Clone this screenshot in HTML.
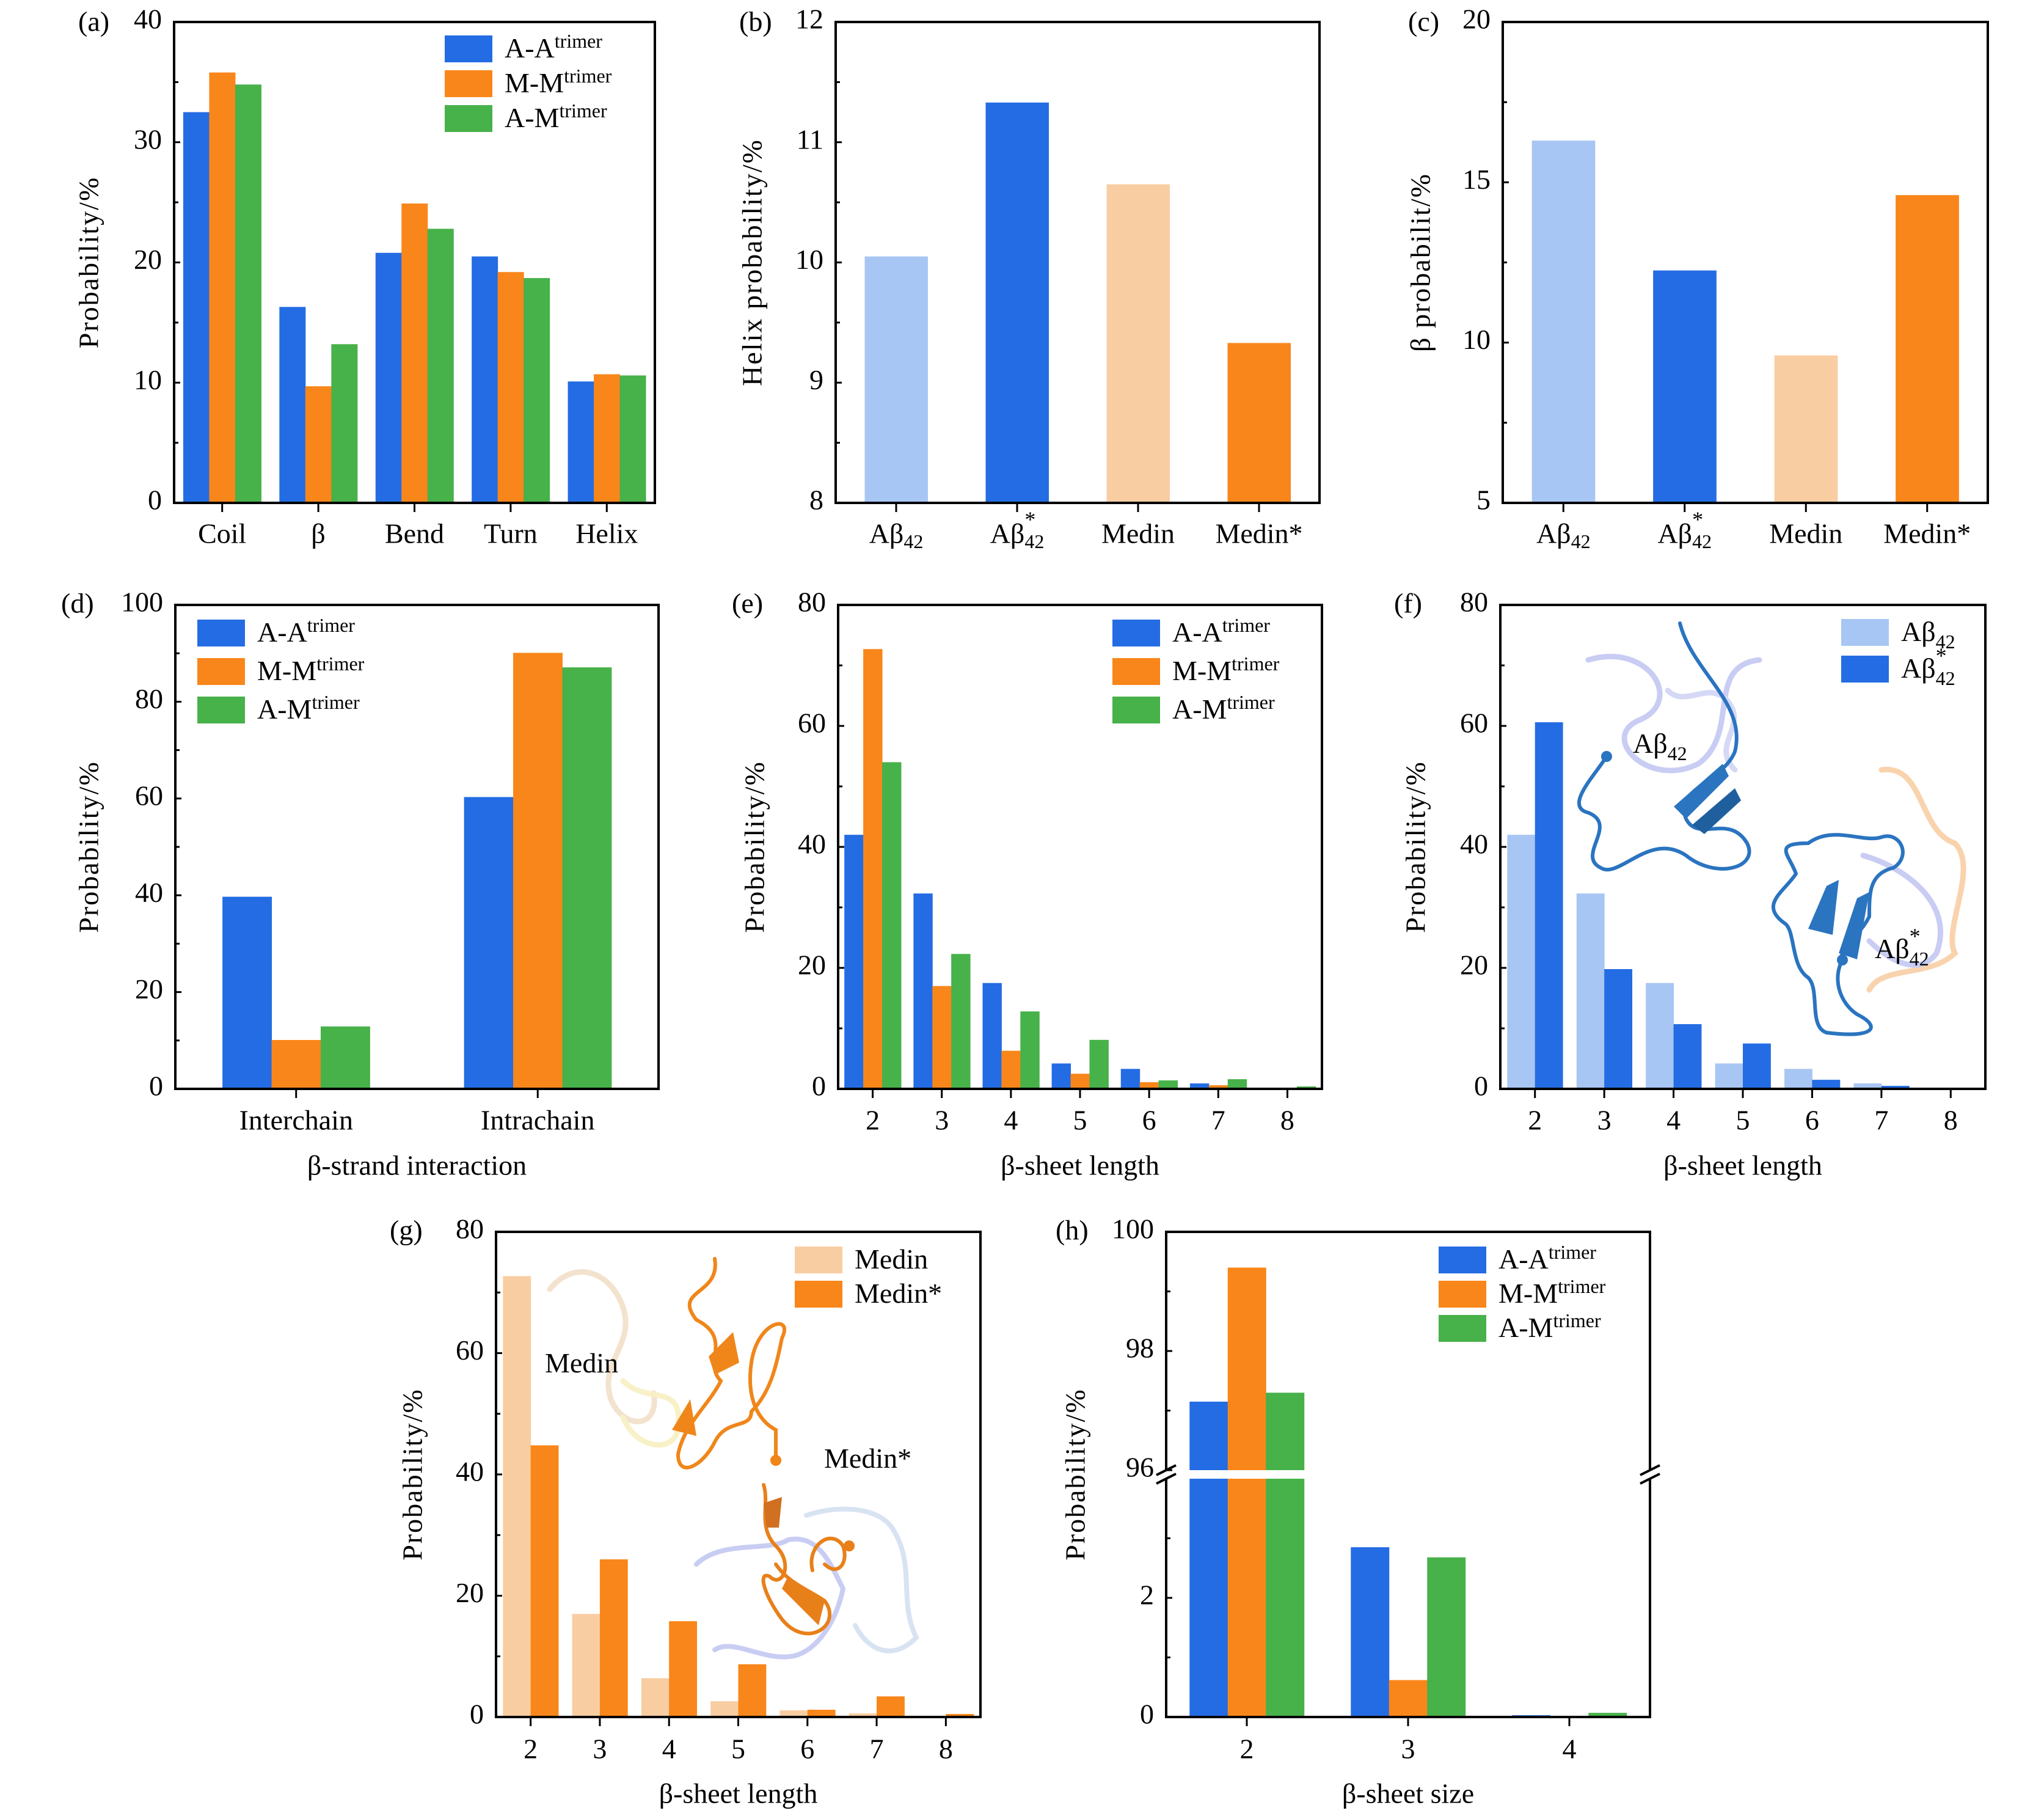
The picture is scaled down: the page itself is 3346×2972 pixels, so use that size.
<!DOCTYPE html>
<html><head><meta charset="utf-8"><style>
html,body{margin:0;padding:0;background:#fff;}
svg{display:block;font-family:"Liberation Serif",serif;}
</style></head><body>
<svg id="fig" width="3346" height="2972" viewBox="0 0 3346 2972" xmlns="http://www.w3.org/2000/svg">
<g id="mol">
 <g fill="none" stroke-linecap="round">
  <path d="M2600,1080 C2700,1050 2760,1150 2680,1180 C2620,1210 2700,1290 2780,1250 C2850,1200 2790,1090 2880,1080" stroke="#c9cdf3" stroke-width="9"/>
  <path d="M2730,1130 C2760,1160 2800,1110 2830,1150 C2860,1190 2800,1220 2840,1260" stroke="#d5d9f6" stroke-width="9"/>
  <path d="M2750,1020 C2770,1100 2860,1150 2840,1230 C2820,1280 2740,1290 2760,1340 C2780,1380 2830,1330 2860,1380 C2880,1420 2810,1440 2760,1400 C2700,1360 2650,1440 2620,1420 C2580,1400 2650,1350 2600,1330 C2560,1320 2610,1270 2630,1238" stroke="#2a74c0" stroke-width="6"/>
  <polygon points="2740,1320 2820,1250 2830,1270 2760,1340" fill="#2a74c0"/>
  <polygon points="2770,1350 2840,1290 2850,1310 2790,1365" fill="#1f5f9e"/>
  <circle cx="2630" cy="1238" r="9" fill="#2a74c0"/>
 </g>
 <g fill="none" stroke-linecap="round">
  <path d="M3080,1260 C3150,1250 3140,1360 3200,1380 C3240,1420 3180,1520 3200,1560 C3160,1600 3080,1580 3060,1620" stroke="#f9d3ad" stroke-width="9"/>
  <path d="M3050,1400 C3120,1420 3200,1480 3170,1560 C3140,1600 3090,1570 3060,1540" stroke="#c9cdf3" stroke-width="9"/>
  <path d="M2960,1380 C3000,1350 3050,1380 3080,1370 C3110,1360 3130,1400 3100,1420 C3060,1430 3060,1460 3060,1500 C3040,1540 3010,1540 3016,1571 C3000,1600 3010,1640 3040,1660 C3080,1680 3070,1700 2990,1690 C2960,1680 2980,1620 2960,1600 C2930,1580 2940,1520 2920,1510 C2880,1480 2920,1460 2940,1430 C2930,1400 2900,1380 2960,1380" stroke="#2a74c0" stroke-width="6"/>
  <polygon points="2960,1520 2990,1450 3010,1440 3000,1530" fill="#2a74c0"/>
  <polygon points="3010,1560 3040,1470 3060,1460 3040,1570" fill="#2a74c0"/>
  <circle cx="3016" cy="1571" r="9" fill="#2a74c0"/>
 </g>
 <g fill="none" stroke-linecap="round">
  <path d="M900,2110 C940,2060 1000,2080 1020,2140 C1040,2200 980,2230 1000,2290 C1020,2340 1080,2340 1070,2280" stroke="#f3e2cd" stroke-width="9"/>
  <path d="M1020,2260 C1060,2300 1120,2260 1110,2340 C1100,2380 1040,2370 1020,2320" stroke="#f8f1c8" stroke-width="9"/>
  <path d="M1170,2060 C1180,2120 1100,2110 1140,2160 C1200,2190 1150,2230 1180,2260 C1160,2300 1120,2330 1110,2380 C1110,2420 1150,2400 1170,2360 C1190,2320 1230,2340 1230,2310 C1260,2280 1270,2240 1280,2190 C1300,2150 1240,2160 1230,2230 C1220,2300 1250,2330 1270,2340 C1270,2370 1270,2390 1270,2390" stroke="#f0861a" stroke-width="6"/>
  <polygon points="1160,2220 1200,2180 1210,2230 1170,2250" fill="#f0861a"/>
  <polygon points="1100,2340 1130,2290 1140,2350" fill="#f0861a"/>
  <circle cx="1270" cy="2390" r="9" fill="#f0861a"/>
 </g>
 <g fill="none" stroke-linecap="round">
  <path d="M1140,2560 C1180,2520 1260,2540 1290,2520 C1340,2510 1360,2560 1380,2600 C1370,2650 1340,2700 1300,2710 C1250,2720 1200,2680 1170,2700" stroke="#c9cdf3" stroke-width="8"/>
  <path d="M1320,2480 C1380,2460 1440,2470 1460,2500 C1500,2560 1470,2620 1500,2680 C1460,2720 1420,2700 1400,2660" stroke="#d8e3f2" stroke-width="8"/>
  <path d="M1250,2430 C1260,2460 1240,2500 1270,2530 C1300,2560 1280,2600 1260,2580 C1240,2570 1250,2610 1280,2650 C1320,2700 1380,2660 1350,2620 C1320,2600 1290,2590 1270,2560 M1330,2570 C1320,2530 1360,2500 1380,2530 C1390,2560 1370,2580 1350,2560" stroke="#e8801a" stroke-width="6"/>
  <polygon points="1290,2580 1350,2620 1340,2660 1280,2600" fill="#e8801a"/>
  <polygon points="1250,2460 1280,2450 1275,2500 1255,2500" fill="#d07020"/>
  <circle cx="1390" cy="2530" r="9" fill="#e8801a"/>
 </g>
</g>
</svg>
<script>
// ---- data ----
const catsA = ["Coil","β","Bend","Turn","Helix"];
const aAA = [32.5,16.3,20.8,20.5,10.1];
const aMM = [35.8,9.7,24.9,19.2,10.7];
const aAM = [34.8,13.2,22.8,18.7,10.6];
const yTicksA = [0,10,20,30,40];

const catsB = ["Aβ42","Aβ*42","Medin","Medin*"];
const valsB = [10.05,11.33,10.65,9.33];
const yTicksB = [8,9,10,11,12];

const valsC = [16.3,12.25,9.6,14.6];
const yTicksC = [5,10,15,20];

const catsD = ["Interchain","Intrachain"];
const dAA = [39.7,60.3];
const dMM = [10.1,90.1];
const dAM = [12.9,87.1];
const yTicksD = [0,20,40,60,80,100];

const lenCats = [2,3,4,5,6,7,8];
const eAA = [42.0,32.3,17.5,4.2,3.3,0.9,0.1];
const eMM = [72.7,17.0,6.3,2.5,1.1,0.6,0.1];
const eAM = [54.0,22.3,12.8,8.1,1.4,1.6,0.4];
const yTicks80 = [0,20,40,60,80];

const fAb = [42.0,32.3,17.5,4.2,3.3,0.9,0];
const fAbS = [60.6,19.8,10.7,7.5,1.5,0.5,0];

const gMed = [72.7,17.0,6.4,2.6,1.1,0.6,0];
const gMedS = [44.8,26.0,15.8,8.7,1.2,3.4,0.5];

const sizeCats = [2,3,4];
const hAA = [97.15,2.85,0.03];
const hMM = [99.4,0.62,0.01];
const hAM = [97.3,2.68,0.07];
const hTicksUpper = [96,98,100];
const hTicksLower = [0,2];

// ---- drawing ----
const NS="http://www.w3.org/2000/svg";
const svg=document.getElementById('fig');
const BLUE="#246ce3",ORANGE="#f9861a",GREEN="#47b14a",LBLUE="#a8c6f3",LORANGE="#f9cda2";
function mk(tag,at,parent){const e=document.createElementNS(NS,tag);for(const k in at)e.setAttribute(k,at[k]);(parent||svg).appendChild(e);return e;}
const FS=46;

function addAbeta(tx,star){
  tx.appendChild(document.createTextNode("Aβ"));
  const s=mk('tspan',{'font-size':32,dy:12},tx);
  s.textContent="42";
  if(star){const st=mk('tspan',{'font-size':36,dx:-32,dy:-36},tx);st.textContent="*";}
}
function subLabel(t,x,y,g,anchor){
  const tx=mk('text',{x:x,y:y,'font-size':FS,'text-anchor':anchor||'middle','dominant-baseline':'middle'},g);
  if(t==="Aβ42"||t==="Aβ*42"){addAbeta(tx,t==="Aβ*42");}
  else tx.textContent=t;
  return tx;
}

function axes(p){
  const g=mk('g',{});
  
  
  p.g=g;
  p.yv=v=>p.y1-(v-p.ymin)/(p.ymax-p.ymin)*(p.y1-p.y0);
  p.xv=c=>p.x0+(c-p.xmin)/(p.xmax-p.xmin)*(p.x1-p.x0);
  p.cx=i=>p.xv(p.xmin+0.5+i);
  return g;
}
function frame(p){
  const r=mk('rect',{x:p.x0,y:p.y0,width:p.x1-p.x0,height:p.y1-p.y0,fill:'none',stroke:'#000','stroke-width':4},p.g);
  
  
}
function yaxis(p,ticks,minor){
  const g=p.g;
  ticks.forEach(v=>{
    const y=p.yv(v);
    mk('line',{x1:p.x0,x2:p.x0+10,y1:y,y2:y,stroke:'#000','stroke-width':3},g);
    const t=mk('text',{x:p.x0-20,y:y,'font-size':FS,'text-anchor':'end','dominant-baseline':'middle'},g);
    t.textContent=v;
    
    
  });
  if(minor){for(let i=0;i<ticks.length-1;i++){const y=p.yv((ticks[i]+ticks[i+1])/2);mk('line',{x1:p.x0,x2:p.x0+7,y1:y,y2:y,stroke:'#000','stroke-width':3},g);}}
}
function xaxis(p,cats,labY){
  cats.forEach((c,i)=>{
    const x=p.cx(i);
    mk('line',{x1:x,x2:x,y1:p.y1,y2:p.y1+15,stroke:'#000','stroke-width':3},p.g);
    const t=subLabel(String(c),x,labY,p.g);
    
    
  });
}
function bars(p,series,colors,frac,perBarColors){
  const n=series.length;const sp=(p.x1-p.x0)/(p.xmax-p.xmin);
  const gw=frac*sp, bw=gw/n;
  series.forEach((s,si)=>{
    s.forEach((v,i)=>{
      const x=p.cx(i)-gw/2+si*bw;
      const yTop=p.yv(Math.max(v,p.ymin)), yb=p.y1-2;
      const r=mk('rect',{x:x,y:yTop,width:bw+0.5,height:Math.max(0,yb-yTop),fill:perBarColors?perBarColors[i]:colors[si]},p.g);
      
      
    });
  });
}
function label(p,txt,x,y){const t=mk('text',{x:x,y:y,'font-size':FS,'dominant-baseline':'middle'},p.g);t.textContent=txt;
  }
function ytitle(p,txt,x){const cy=(p.y0+p.y1)/2;const t=mk('text',{x:x,y:cy,'font-size':FS,'text-anchor':'middle','dominant-baseline':'middle',transform:`rotate(-90 ${x} ${cy})`,'letter-spacing':2},p.g);t.textContent=txt;
  }
function xtitle(p,txt,y){const t=mk('text',{x:(p.x0+p.x1)/2,y:y,'font-size':FS,'text-anchor':'middle','dominant-baseline':'middle'},p.g);t.textContent=txt;
  }
function legend(p,items,sx,sy0,step){
  items.forEach((it,i)=>{
    const y=sy0+i*step;
    const r=mk('rect',{x:sx,y:y,width:78,height:44,fill:it[1]},p.g);
    
    const t=mk('text',{x:sx+98,y:y+36,'font-size':FS},p.g);
    
    const name=it[0];
    if(name.indexOf('trimer')>0){t.appendChild(document.createTextNode(name.split('|')[0]));const s=mk('tspan',{'font-size':32,dy:-16},t);s.textContent='trimer';}
    else if(name==="Aβ42"||name==="Aβ*42"){addAbeta(t,name==="Aβ*42");}
    else t.textContent=name;
  });
}
const trimerLeg=[["A-A|trimer",BLUE],["M-M|trimer",ORANGE],["A-M|trimer",GREEN]];

// (a)
let p={name:'panel-a',x0:285,x1:1072,y0:36,y1:823,ymin:0,ymax:40,xmin:0.5,xmax:5.5};
axes(p);bars(p,[aAA,aMM,aAM],[BLUE,ORANGE,GREEN],0.81);frame(p);yaxis(p,yTicksA,true);xaxis(p,catsA,878);
label(p,'(a)',128,40);ytitle(p,'Probability/%',150);legend(p,trimerLeg,728,58,57);
// (b)
p={name:'panel-b',x0:1368,x1:2160,y0:36,y1:823,ymin:8,ymax:12,xmin:0.5,xmax:4.5};
axes(p);bars(p,[valsB],[BLUE],0.52,[LBLUE,BLUE,LORANGE,ORANGE]);frame(p);yaxis(p,yTicksB,true);xaxis(p,catsB,878);
label(p,'(b)',1210,40);ytitle(p,'Helix probability/%',1236);
// (c)
p={name:'panel-c',x0:2460,x1:3254,y0:36,y1:823,ymin:5,ymax:20,xmin:0.5,xmax:4.5};
axes(p);bars(p,[valsC],[BLUE],0.52,[LBLUE,BLUE,LORANGE,ORANGE]);frame(p);yaxis(p,yTicksC,true);xaxis(p,catsB,878);
label(p,'(c)',2305,40);ytitle(p,'β probabilit/%',2330);
// (d)
p={name:'panel-d',x0:287,x1:1078,y0:990,y1:1782,ymin:0,ymax:100,xmin:0.5,xmax:2.5};
axes(p);bars(p,[dAA,dMM,dAM],[BLUE,ORANGE,GREEN],0.61);frame(p);yaxis(p,yTicksD,true);xaxis(p,catsD,1838);
label(p,'(d)',100,992);ytitle(p,'Probability/%',150);xtitle(p,'β-strand interaction',1912);legend(p,trimerLeg,323,1014,63);
// (e)
p={name:'panel-e',x0:1372,x1:2164,y0:990,y1:1782,ymin:0,ymax:80,xmin:1.5,xmax:8.5};
axes(p);bars(p,[eAA,eMM,eAM],[BLUE,ORANGE,GREEN],0.82);frame(p);yaxis(p,yTicks80,true);xaxis(p,lenCats,1838);
label(p,'(e)',1198,992);ytitle(p,'Probability/%',1240);xtitle(p,'β-sheet length',1912);legend(p,trimerLeg,1821,1014,63);
// (f)
p={name:'panel-f',x0:2456,x1:3250,y0:990,y1:1782,ymin:0,ymax:80,xmin:1.5,xmax:8.5};
axes(p);bars(p,[fAb,fAbS],[LBLUE,BLUE],0.8);frame(p);yaxis(p,yTicks80,true);xaxis(p,lenCats,1838);
label(p,'(f)',2282,992);ytitle(p,'Probability/%',2322);xtitle(p,'β-sheet length',1912);legend(p,[["Aβ42",LBLUE],["Aβ*42",BLUE]],3014,1013,60);
(function(){const t=mk('text',{x:2673,y:1232,'font-size':FS},p.g);addAbeta(t,false);

const t2=mk('text',{x:3069,y:1568,'font-size':FS},p.g);addAbeta(t2,true);
})();
// (g)
p={name:'panel-g',x0:812,x1:1605,y0:2016,y1:2810,ymin:0,ymax:80,xmin:1.5,xmax:8.5};
axes(p);bars(p,[gMed,gMedS],[LORANGE,ORANGE],0.8);frame(p);yaxis(p,yTicks80,true);xaxis(p,lenCats,2867);
label(p,'(g)',638,2018);ytitle(p,'Probability/%',680);xtitle(p,'β-sheet length',2940);legend(p,[["Medin",LORANGE],["Medin*",ORANGE]],1301,2040,56);
(function(){const t=mk('text',{x:892,y:2246,'font-size':FS},p.g);t.textContent='Medin';
const t2=mk('text',{x:1349,y:2402,'font-size':FS},p.g);t2.textContent='Medin*';})();
// (h) broken axis
(function(){
 const x0=1909,x1=2701,y0=2016,y1=2810,upB=2406,loT=2420;
 const g=mk('g',{});
 const yU=v=>upB-(v-96)/(100-96)*(upB-y0);
 const yL=v=>y1-(v/4)*(y1-loT);
 const xv=c=>x0+(c-1.5)/3*(x1-x0);
 const sp=(x1-x0)/3,gw=0.71*sp,bw=gw/3;
 [hAA,hMM,hAM].forEach((s,si)=>{s.forEach((v,i)=>{
   const x=xv(sizeCats[i])-gw/2+si*bw;const col=[BLUE,ORANGE,GREEN][si];
   if(v>=96){
     const r1=mk('rect',{x:x,y:loT,width:bw+0.5,height:y1-2-loT,fill:col},g);
     const r2=mk('rect',{x:x,y:yU(v),width:bw+0.5,height:upB-yU(v),fill:col},g);
   } else {const yt=yL(Math.min(v,4));const r=mk('rect',{x:x,y:yt,width:bw+0.5,height:Math.max(0,y1-2-yt),fill:col},g);}
 });});
 const st={stroke:'#000','stroke-width':4,fill:'none'};
 mk('path',Object.assign({d:`M${x0},${upB} L${x0},${y0} L${x1},${y0} L${x1},${upB}`},st),g);
 mk('path',Object.assign({d:`M${x0},${loT} L${x0},${y1} L${x1},${y1} L${x1},${loT}`},st),g);
 [[x0,upB],[x0,loT],[x1,upB],[x1,loT]].forEach(q=>mk('line',{x1:q[0]-16,y1:q[1]+8,x2:q[0]+16,y2:q[1]-8,stroke:'#000','stroke-width':4},g));
 hTicksUpper.forEach(v=>{const y=yU(v);mk('line',{x1:x0,x2:x0+10,y1:y,y2:y,stroke:'#000','stroke-width':3},g);
  const t=mk('text',{x:x0-20,y:y,'font-size':FS,'text-anchor':'end','dominant-baseline':'middle'},g);t.textContent=v;});
 [97,99].forEach(v=>{const y=yU(v);mk('line',{x1:x0,x2:x0+7,y1:y,y2:y,stroke:'#000','stroke-width':3},g);});
 hTicksLower.forEach(v=>{const y=yL(v);mk('line',{x1:x0,x2:x0+10,y1:y,y2:y,stroke:'#000','stroke-width':3},g);
  const t=mk('text',{x:x0-20,y:y,'font-size':FS,'text-anchor':'end','dominant-baseline':'middle'},g);t.textContent=v;});
 [1,3].forEach(v=>{const y=yL(v);mk('line',{x1:x0,x2:x0+7,y1:y,y2:y,stroke:'#000','stroke-width':3},g);});
 sizeCats.forEach((c,i)=>{const x=xv(c);mk('line',{x1:x,x2:x,y1:y1,y2:y1+15,stroke:'#000','stroke-width':3},g);
  const t=mk('text',{x:x,y:2867,'font-size':FS,'text-anchor':'middle','dominant-baseline':'middle'},g);t.textContent=c;});
 const pl=mk('text',{x:1728,y:2018,'font-size':FS,'dominant-baseline':'middle'},g);pl.textContent='(h)';
 const cy=(y0+y1)/2;const yt=mk('text',{x:1765,y:cy,'font-size':FS,'text-anchor':'middle','dominant-baseline':'middle','letter-spacing':2,transform:`rotate(-90 1765 ${cy})`},g);yt.textContent='Probability/%';
 const xt=mk('text',{x:(x0+x1)/2,y:2940,'font-size':FS,'text-anchor':'middle','dominant-baseline':'middle'},g);xt.textContent='β-sheet size';
 legend({g:g},trimerLeg,2355,2040,56);
})();
</script>
</body></html>
